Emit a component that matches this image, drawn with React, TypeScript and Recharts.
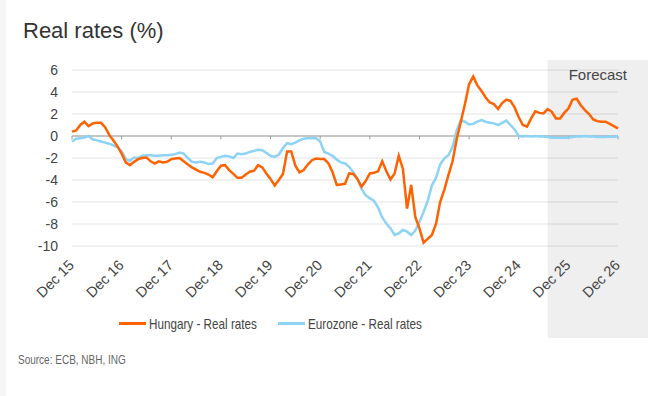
import React from "react";
import {
  LineChart,
  Line,
  XAxis,
  YAxis,
  CartesianGrid,
  ReferenceLine,
  ReferenceArea,
} from "recharts";

const MONTHS = ["Jan", "Feb", "Mar", "Apr", "May", "Jun", "Jul", "Aug", "Sep", "Oct", "Nov", "Dec"];

// Monthly categories from Dec 15 to Dec 26
const categories: string[] = Array.from({ length: 133 }, (_, i) => {
  const idx = 11 + i;
  const yr = 15 + Math.floor(idx / 12);
  return `${MONTHS[idx % 12]} ${yr}`;
});

const xTicks = ["Dec 15", "Dec 16", "Dec 17", "Dec 18", "Dec 19", "Dec 20", "Dec 21", "Dec 22", "Dec 23", "Dec 24", "Dec 25", "Dec 26"];
const yTicks = [-10, -8, -6, -4, -2, 0, 2, 4, 6];

const hungary = [
  0.4, 0.5, 1.0, 1.3, 0.9, 1.15, 1.2, 1.2, 0.8, 0.1,
  -0.4, -0.95, -1.6, -2.4, -2.65, -2.35, -2.1, -2.0, -1.95, -2.3,
  -2.5, -2.3, -2.4, -2.35, -2.1, -2.05, -2.0, -2.3, -2.6, -2.85,
  -3.05, -3.25, -3.35, -3.5, -3.75, -3.2, -2.7, -2.65, -3.1, -3.45,
  -3.8, -3.8, -3.5, -3.25, -3.15, -2.65, -2.85, -3.4, -3.9, -4.5,
  -4.0, -3.45, -1.4, -1.4, -2.7, -3.3, -3.1, -2.6, -2.2, -2.05,
  -2.1, -2.1, -2.5, -3.3, -4.45, -4.4, -4.35, -3.4, -3.45, -3.9,
  -4.6, -4.1, -3.4, -3.35, -3.2, -2.3, -3.2, -3.95, -3.4, -1.8,
  -3.0, -6.6, -4.45, -7.35, -8.4, -9.7, -9.35, -9.0, -8.0, -6.0,
  -4.9, -3.55, -2.3, -0.3, 1.3, 2.9, 4.7, 5.4, 4.6, 4.1,
  3.5, 3.05, 2.9, 2.45, 3.0, 3.3, 3.2, 2.6, 1.7, 1.0,
  0.85, 1.6, 2.25, 2.1, 2.05, 2.45, 2.2, 1.6, 1.6, 2.1,
  2.5, 3.3, 3.4, 2.8, 2.35, 2.0, 1.5, 1.35, 1.3, 1.3,
  1.1, 0.9, 0.7,
];

const eurozone = [
  -0.5, -0.25, -0.2, -0.15, 0.0, -0.3, -0.4, -0.5, -0.6, -0.7,
  -0.85, -1.0, -1.4, -2.1, -2.25, -1.95, -2.0, -1.8, -1.75, -1.75,
  -1.8, -1.8, -1.75, -1.75, -1.7, -1.65, -1.5, -1.6, -2.0, -2.35,
  -2.4, -2.35, -2.4, -2.55, -2.5, -2.0, -1.9, -1.8, -1.85, -2.0,
  -1.6, -1.65, -1.6, -1.45, -1.35, -1.25, -1.3, -1.55, -1.8, -1.9,
  -1.7, -1.1, -0.65, -0.75, -0.6, -0.4, -0.25, -0.2, -0.2, -0.2,
  -0.5, -1.45, -1.6, -1.8, -2.15, -2.4, -2.5, -2.8, -3.3, -3.9,
  -4.8, -5.4, -5.65, -5.9, -6.5, -7.4, -7.95, -8.4, -9.0, -8.85,
  -8.55, -8.7, -9.0, -8.6, -7.8, -6.9, -5.9, -4.5, -3.8, -2.6,
  -2.05, -1.75, -1.0, 0.5, 1.4, 1.3, 1.05, 1.1, 1.3, 1.45,
  1.3, 1.2, 1.15, 1.0, 1.2, 1.4, 1.0, 0.6, 0.0, -0.05,
  0.0, -0.05, 0.0, -0.05, -0.05, -0.1, -0.15, -0.15, -0.15, -0.15,
  -0.15, -0.1, -0.05, -0.05, 0.0, -0.05, -0.05, -0.1, -0.1, -0.1,
  -0.05, -0.1, 0.0,
];

const forecastStart = "Jul 25";
const forecastEnd = "Dec 26";

const series = [
  { key: "hungary", name: "Hungary - Real rates", color: "#FF6200" },
  { key: "eurozone", name: "Eurozone - Real rates", color: "#8CD3F5" },
];

const data = categories.map((month, i) => ({
  month,
  hungary: hungary[i],
  eurozone: eurozone[i],
}));

const FONT = "'Liberation Sans', Arial, sans-serif";

const XTick = (props: any) => {
  const { x, y, payload } = props;
  return (
    <g transform={`translate(${x + 3},${y + 20})`}>
      <text x={0} y={0} textAnchor="end" transform="rotate(-45)" fill="#444" fontSize={14.5} fontFamily={FONT}>
        {payload.value}
      </text>
    </g>
  );
};

const ForecastShape = (props: any) => {
  const { x, y, width, height } = props;
  const w = width + 30;
  return (
    <g>
      <rect x={x} y={y - 10} width={w} height={height + 102} fill="#000" fillOpacity={0.063} />
      <text x={x + w / 2} y={y + 10} textAnchor="middle" fill="#444" fontSize={15} fontFamily={FONT}>
        Forecast
      </text>
    </g>
  );
};

const narrowText = (scale: number): React.CSSProperties => ({
  display: "inline-block",
  transform: `scaleX(${scale})`,
  transformOrigin: "left center",
  whiteSpace: "nowrap",
});

export default function App() {
  const legendLeft = [119, 278];
  return (
    <div style={{ position: "absolute", left: 0, top: 0, width: 657, height: 396, background: "#fff", overflow: "hidden" }}>
      <div style={{ position: "absolute", left: 0, top: 0, width: 6, height: 396, background: "#f6f6f6" }} />
      <div style={{ position: "absolute", left: 0, top: 0 }}>
        <LineChart width={657} height={396} data={data} margin={{ top: 70, right: 39, bottom: 90, left: 0 }}>
          <ReferenceArea x1={forecastStart} x2={forecastEnd} ifOverflow="visible" shape={<ForecastShape />} />
          <CartesianGrid vertical={false} stroke="#e4e4e4" strokeWidth={1} />
          <XAxis
            dataKey="month"
            ticks={xTicks}
            interval={0}
            axisLine={false}
            tickLine={false}
            tickSize={0}
            tickMargin={0}
            height={60}
            tick={<XTick />}
          />
          <YAxis
            domain={[-10, 6]}
            ticks={yTicks}
            interval={0}
            axisLine={false}
            tickLine={false}
            tickSize={0}
            tickMargin={14}
            width={72}
            tick={{ fill: "#444", fontSize: 14, fontFamily: FONT }}
          />
          <ReferenceLine y={0} stroke="#999" strokeWidth={1} />
          {xTicks.map((t) => (
            <ReferenceLine
              key={t}
              segment={[{ x: t, y: 0 }, { x: t, y: -0.3 }]}
              stroke="#999"
              strokeWidth={1}
            />
          ))}
          <Line type="linear" dataKey="eurozone" name={series[1].name} stroke={series[1].color} strokeWidth={2.5} dot={false} isAnimationActive={false} />
          <Line type="linear" dataKey="hungary" name={series[0].name} stroke={series[0].color} strokeWidth={2.5} dot={false} isAnimationActive={false} />
        </LineChart>
      </div>
      <div style={{ position: "absolute", left: 23, top: 20, fontFamily: FONT, fontSize: 22, lineHeight: "22px", color: "#333" }}>
        Real rates (%)
      </div>
      {series.map((s, i) => (
        <div
          key={s.key}
          style={{ position: "absolute", left: legendLeft[i], top: 314, height: 18, display: "flex", alignItems: "center", fontFamily: FONT, fontSize: 15, color: "#444" }}
        >
          <div style={{ width: 27, height: 3, background: s.color, marginRight: 3 }} />
          <span style={narrowText(0.78)}>{s.name}</span>
        </div>
      ))}
      <div style={{ position: "absolute", left: 18, top: 353, fontFamily: FONT, fontSize: 12.5, color: "#666" }}>
        <span style={narrowText(0.8)}>Source: ECB, NBH, ING</span>
      </div>
    </div>
  );
}
